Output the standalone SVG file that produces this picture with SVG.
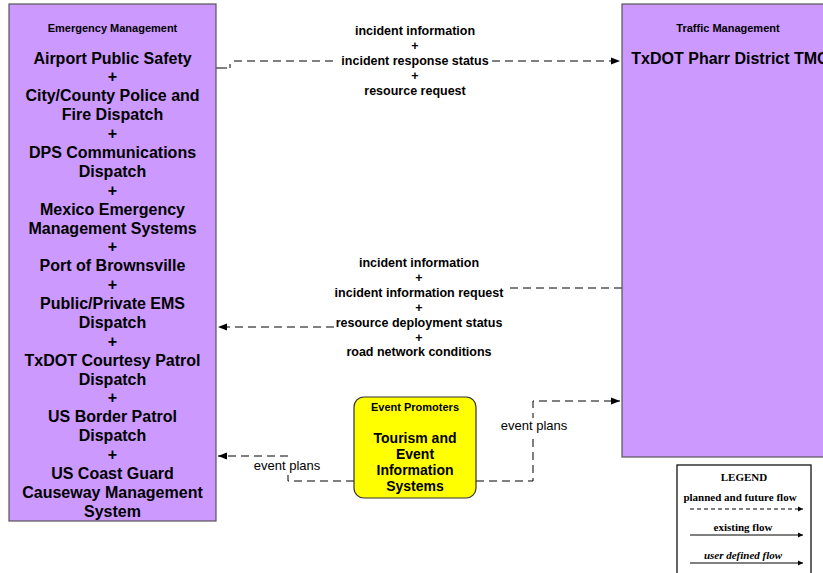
<svg xmlns="http://www.w3.org/2000/svg" width="823" height="573" viewBox="0 0 823 573">
<style>
.box{fill:#cc99ff;stroke:#555;stroke-width:1.2}
.t{font-family:"Liberation Sans",Arial,sans-serif;font-weight:bold;text-anchor:middle;fill:#000}
.h{font-size:11px}
.m{font-size:16px}
.e{font-size:14px}
.l{font-size:12.5px}
.ep{font-family:"Liberation Sans",Arial,sans-serif;font-size:13px;text-anchor:middle;fill:#000}
.flow{fill:none;stroke:#000;stroke-width:1;stroke-dasharray:8,5}
.lg{font-family:"Liberation Serif","Times New Roman",serif;font-weight:bold;font-size:11px;text-anchor:middle}
</style>
<defs>
<marker id="ah" markerWidth="10" markerHeight="8" refX="9" refY="4" orient="auto" markerUnits="userSpaceOnUse">
<path d="M0,0.5 L9,4 L0,7.5 Z" fill="#000"/>
</marker>
<marker id="ahs" markerWidth="6" markerHeight="6" refX="5" refY="3" orient="auto" markerUnits="userSpaceOnUse">
<path d="M0,0.5 L5,3 L0,5.5 Z" fill="#000"/>
</marker>
</defs>
<rect width="823" height="573" fill="#fff"/>
<g id="connectors">
<path d="M216,68 H227 M230,68 V64" fill="none" stroke="#000"/>
<path class="flow" d="M234,61 H338 M492,61 H620" marker-end="url(#ah)"/>
<path class="flow" d="M622,288 H505"/>
<path class="flow" d="M334,327 H218" marker-end="url(#ah)"/>
<path class="flow" d="M354,481 H288 V456 H218" marker-end="url(#ah)"/>
<path class="flow" d="M476,481 H533 V401 H620" marker-end="url(#ah)"/>
<text class="t l" x="415" y="35">incident information</text>
<text class="t l" x="415" y="50">+</text>
<text class="t l" x="415" y="65">incident response status</text>
<text class="t l" x="415" y="80">+</text>
<text class="t l" x="415" y="95">resource request</text>
<text class="t l" x="419" y="267">incident information</text>
<text class="t l" x="419" y="282">+</text>
<text class="t l" x="419" y="297">incident information request</text>
<text class="t l" x="419" y="312">+</text>
<text class="t l" x="419" y="327">resource deployment status</text>
<text class="t l" x="419" y="342">+</text>
<text class="t l" x="419" y="356">road network conditions</text>
<rect x="250" y="459" width="74" height="16" fill="#fff"/>
<text class="ep" x="287" y="470">event plans</text>
<rect x="497" y="418" width="74" height="16" fill="#fff"/>
<text class="ep" x="534" y="430">event plans</text>
</g>
<g id="emergency-management">
<rect class="box" x="9" y="4" width="207" height="517"/>
<text class="t h" x="112.5" y="32">Emergency Management</text>
<text class="t m" x="112.5" y="64">Airport Public Safety</text>
<text class="t m" x="112.5" y="82">+</text>
<text class="t m" x="112.5" y="101">City/County Police and</text>
<text class="t m" x="112.5" y="120">Fire Dispatch</text>
<text class="t m" x="112.5" y="139">+</text>
<text class="t m" x="112.5" y="158">DPS Communications</text>
<text class="t m" x="112.5" y="177">Dispatch</text>
<text class="t m" x="112.5" y="196">+</text>
<text class="t m" x="112.5" y="215">Mexico Emergency</text>
<text class="t m" x="112.5" y="234">Management Systems</text>
<text class="t m" x="112.5" y="252">+</text>
<text class="t m" x="112.5" y="271">Port of Brownsville</text>
<text class="t m" x="112.5" y="290">+</text>
<text class="t m" x="112.5" y="309">Public/Private EMS</text>
<text class="t m" x="112.5" y="328">Dispatch</text>
<text class="t m" x="112.5" y="347">+</text>
<text class="t m" x="112.5" y="366">TxDOT Courtesy Patrol</text>
<text class="t m" x="112.5" y="385">Dispatch</text>
<text class="t m" x="112.5" y="403">+</text>
<text class="t m" x="112.5" y="422">US Border Patrol</text>
<text class="t m" x="112.5" y="441">Dispatch</text>
<text class="t m" x="112.5" y="460">+</text>
<text class="t m" x="112.5" y="479">US Coast Guard</text>
<text class="t m" x="112.5" y="498">Causeway Management</text>
<text class="t m" x="112.5" y="517">System</text>
</g>
<g id="traffic-management">
<rect class="box" x="622" y="4" width="210" height="453"/>
<text class="t h" x="728" y="32">Traffic Management</text>
<text class="t m" x="730" y="64">TxDOT Pharr District TMC</text>
</g>
<g id="event-promoters">
<rect x="354" y="397" width="122" height="101" rx="10" fill="#ffff00" stroke="#333" stroke-width="1.2"/>
<text class="t h" x="415" y="411">Event Promoters</text>
<text class="t e" x="415" y="443">Tourism and</text>
<text class="t e" x="415" y="459">Event</text>
<text class="t e" x="415" y="475">Information</text>
<text class="t e" x="415" y="491">Systems</text>
</g>
<g id="legend">
<rect x="677" y="465" width="134" height="120" fill="#fff" stroke="#000" stroke-width="1.2"/>
<text class="lg" x="744" y="481">LEGEND</text>
<text class="lg" x="740" y="501">planned and future flow</text>
<path d="M690,509 H803" fill="none" stroke="#000" stroke-dasharray="4,3" marker-end="url(#ahs)"/>
<text class="lg" x="743" y="531">existing flow</text>
<path d="M690,535 H803" fill="none" stroke="#000" marker-end="url(#ahs)"/>
<text class="lg" x="743" y="559" font-style="italic">user defined flow</text>
<path d="M690,563 H803" fill="none" stroke="#000" marker-end="url(#ahs)"/>
</g>
</svg>
